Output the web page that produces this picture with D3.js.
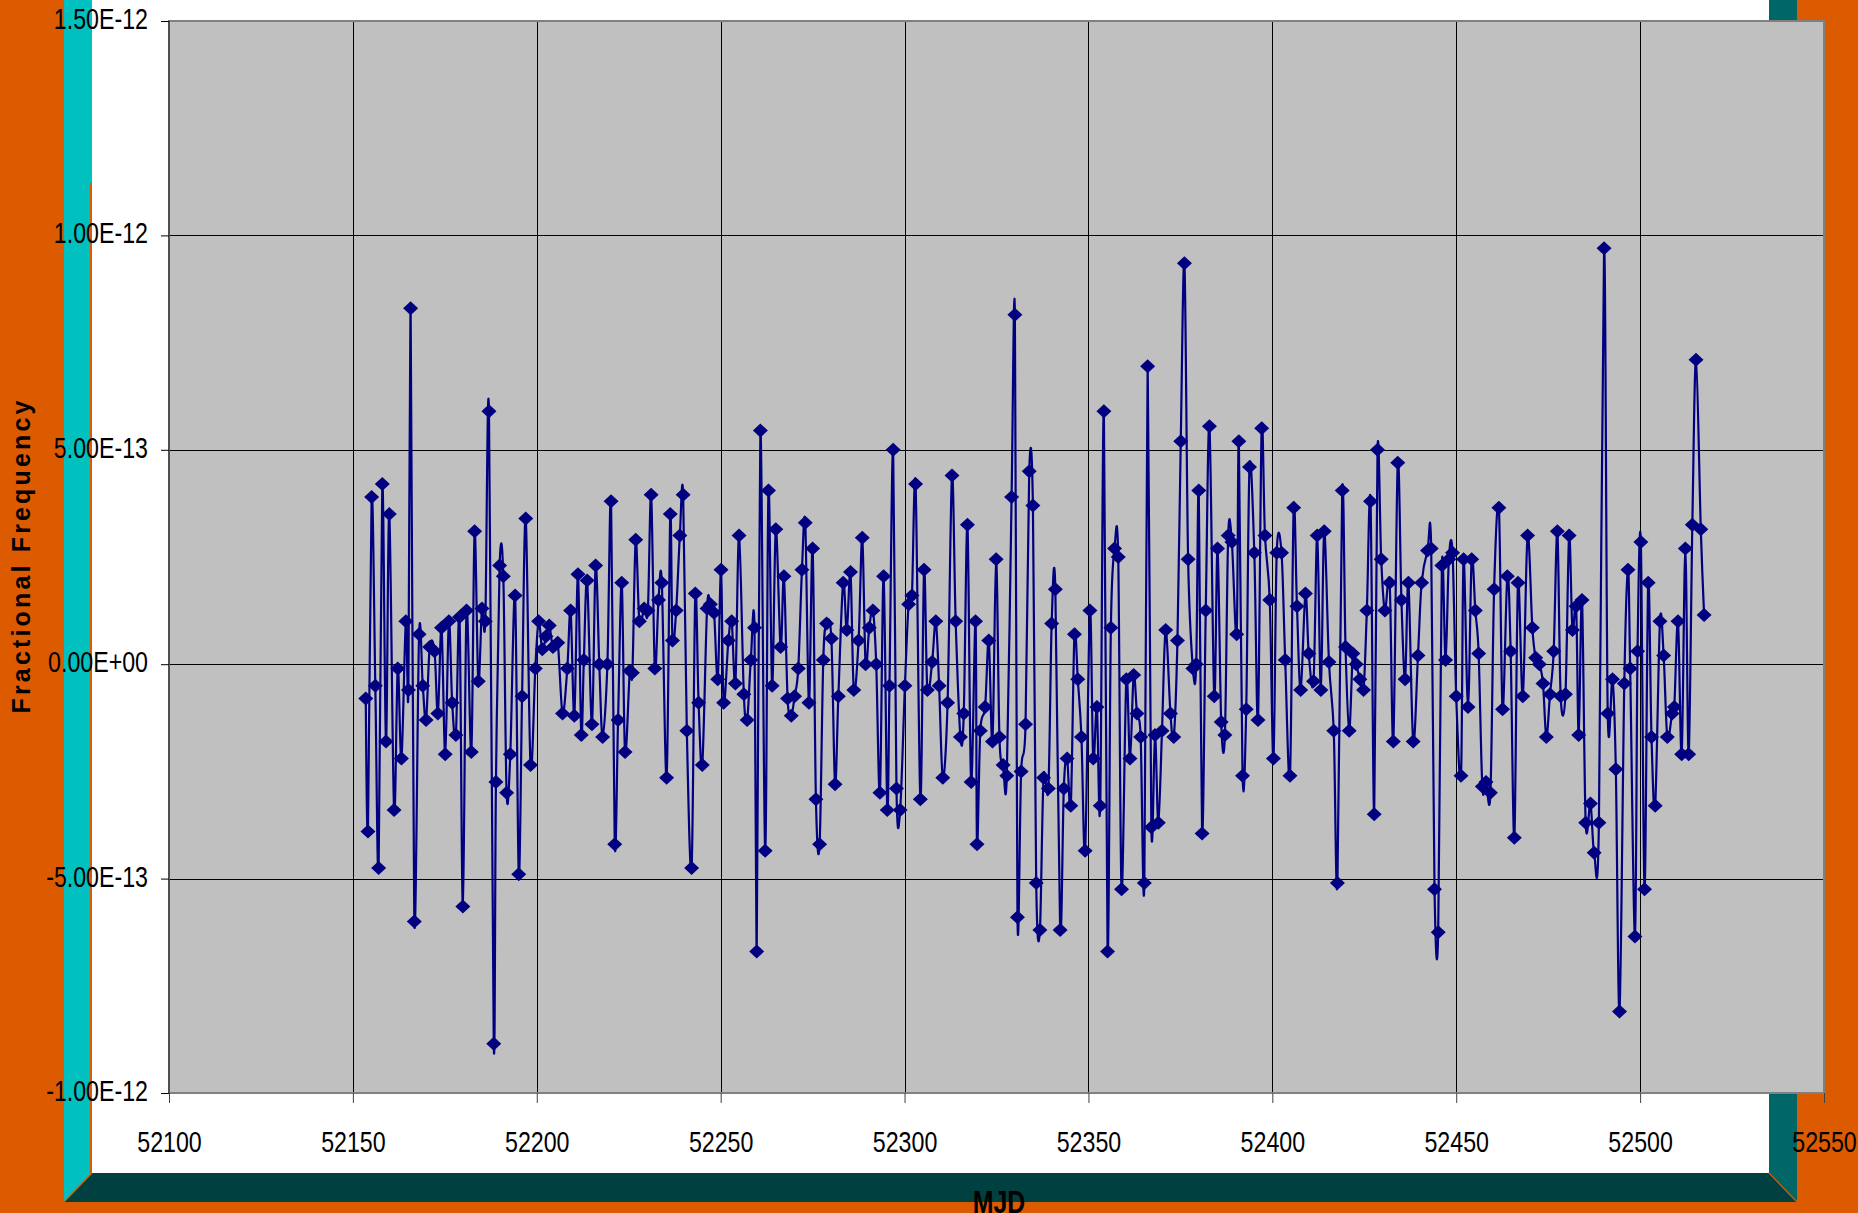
<!DOCTYPE html>
<html lang="en">
	<head>
		<meta charset="utf-8">
		<title>Fractional Frequency vs MJD</title>
		<script src="https://d3js.org/d3.v7.min.js"></script>
		<style>
			body { margin: 0; background: #DC5A00; }
			svg { display: block; }
		</style>
	</head>
	<body>
		<script type="text/javascript">

			// MJD of each point
			var mjd = [52153.5, 52154.1, 52155.1, 52156.1, 52157.0, 52158.0, 52159.0, 52159.9, 52161.2, 52162.2,
				52163.2, 52164.4, 52165.1, 52165.7, 52166.7, 52168.0, 52169.0, 52169.9, 52170.9, 52172.2,
				52173.1, 52174.1, 52175.1, 52176.1, 52177.0, 52178.0, 52179.0, 52179.9, 52180.9, 52182.2,
				52183.1, 52184.1, 52185.1, 52186.0, 52187.0, 52188.3, 52188.9, 52189.9, 52190.9, 52191.8,
				52192.8, 52194.1, 52195.1, 52196.0, 52197.0, 52198.3, 52199.6, 52200.5, 52201.5, 52202.5,
				52203.4, 52204.4, 52205.7, 52207.0, 52208.3, 52209.2, 52210.2, 52211.2, 52212.1, 52212.8,
				52213.7, 52215.0, 52216.0, 52217.0, 52217.9, 52219.2, 52220.2, 52221.2, 52222.1, 52223.1,
				52224.0, 52225.3, 52226.0, 52226.9, 52227.9, 52229.2, 52230.2, 52231.1, 52232.1, 52233.1,
				52234.0, 52235.3, 52236.3, 52236.9, 52237.9, 52238.9, 52239.8, 52240.8, 52242.1, 52243.1,
				52244.0, 52245.0, 52246.3, 52247.2, 52248.2, 52249.2, 52250.1, 52250.8, 52252.1, 52253.0,
				52254.0, 52255.0, 52256.3, 52257.2, 52258.2, 52259.2, 52259.8, 52260.8, 52262.1, 52263.0,
				52264.0, 52265.0, 52266.3, 52267.2, 52268.2, 52269.2, 52270.1, 52271.1, 52272.1, 52273.0,
				52274.0, 52275.0, 52275.9, 52276.9, 52277.9, 52278.8, 52280.1, 52281.1, 52282.0, 52283.3,
				52284.3, 52285.3, 52286.2, 52287.5, 52288.5, 52289.4, 52290.4, 52291.4, 52292.3, 52293.3,
				52294.3, 52295.3, 52295.9, 52296.9, 52297.8, 52298.8, 52300.1, 52301.1, 52302.0, 52303.0,
				52304.3, 52305.3, 52306.2, 52307.5, 52308.5, 52309.4, 52310.4, 52311.7, 52312.9, 52313.9,
				52315.2, 52316.1, 52317.1, 52318.1, 52319.3, 52319.7, 52320.6, 52321.9, 52322.9, 52323.9,
				52324.9, 52325.8, 52326.8, 52327.8, 52329.1, 52330.0, 52330.7, 52331.7, 52332.9, 52333.9,
				52334.9, 52335.8, 52336.8, 52337.8, 52339.1, 52340.0, 52341.0, 52342.3, 52343.3, 52344.2,
				52345.2, 52346.2, 52347.1, 52348.1, 52349.1, 52350.4, 52351.3, 52352.3, 52353.2, 52354.2,
				52355.2, 52356.1, 52357.1, 52358.1, 52359.0, 52360.3, 52361.3, 52362.3, 52363.2, 52364.2,
				52365.2, 52366.1, 52367.1, 52368.1, 52369.0, 52370.0, 52371.0, 52372.3, 52373.2, 52374.2,
				52375.1, 52376.1, 52377.1, 52378.4, 52379.3, 52380.0, 52380.9, 52381.9, 52382.9, 52384.2,
				52385.1, 52386.1, 52387.1, 52388.0, 52389.0, 52390.3, 52390.9, 52391.9, 52392.9, 52393.8,
				52395.1, 52396.1, 52397.1, 52398.0, 52399.3, 52400.3, 52401.2, 52402.5, 52403.5, 52404.8,
				52405.8, 52406.7, 52407.7, 52409.0, 52409.9, 52411.2, 52412.2, 52413.2, 52414.1, 52415.4,
				52416.7, 52417.7, 52419.0, 52419.9, 52420.9, 52421.9, 52422.8, 52423.8, 52424.8, 52425.7,
				52426.7, 52427.7, 52428.6, 52429.6, 52430.6, 52431.9, 52432.9, 52434.1, 52435.1, 52436.1,
				52437.0, 52438.3, 52439.6, 52440.6, 52442.2, 52443.2, 52444.1, 52445.1, 52446.1, 52447.1,
				52448.0, 52449.0, 52450.0, 52451.3, 52452.0, 52453.2, 52454.2, 52455.2, 52456.1, 52457.1,
				52458.1, 52459.3, 52460.3, 52461.6, 52462.6, 52463.9, 52464.8, 52465.8, 52466.8, 52468.1,
				52469.4, 52470.7, 52471.6, 52472.6, 52473.6, 52474.5, 52475.5, 52476.5, 52477.5, 52478.4,
				52479.7, 52480.7, 52481.6, 52482.6, 52483.3, 52484.2, 52485.2, 52486.5, 52487.5, 52488.8,
				52490.2, 52491.2, 52492.5, 52493.4, 52494.4, 52495.7, 52496.7, 52497.3, 52498.6, 52499.3,
				52500.2, 52501.2, 52502.2, 52503.1, 52504.1, 52505.4, 52506.4, 52507.4, 52508.7, 52509.3,
				52510.3, 52511.3, 52512.3, 52513.2, 52514.2, 52515.2, 52516.5, 52517.4];

			// fractional frequency, in units of 1E-13
			var fracFreqE13 = [-0.8, -3.9, 3.9, -0.5, -4.75, 4.2, -1.8, 3.5, -3.4, -0.1,
				-2.2, 1.0, -0.6, 8.3, -6.0, 0.7, -0.5, -1.3, 0.4, 0.3,
				-1.15, 0.85, -2.1, 1.0, -0.9, -1.65, 1.1, -5.65, 1.25, -2.05,
				3.1, -0.4, 1.3, 1.0, 5.9, -8.85, -2.75, 2.3, 2.05, -3.0,
				-2.1, 1.6, -4.9, -0.75, 3.4, -2.35, -0.1, 1.0, 0.35, 0.65,
				0.9, 0.4, 0.5, -1.15, -0.1, 1.25, -1.2, 2.1, -1.65, 0.1,
				1.95, -1.4, 2.3, 0.0, -1.7, 0.0, 3.8, -4.2, -1.3, 1.9,
				-2.05, -0.15, -0.2, 2.9, 1.0, 1.3, 1.25, 3.95, -0.1, 1.5,
				1.9, -2.65, 3.5, 0.55, 1.25, 3.0, 3.95, -1.55, -4.75, 1.65,
				-0.9, -2.35, 1.3, 1.4, 1.2, -0.35, 2.2, -0.9, 0.55, 1.0,
				-0.45, 3.0, -0.7, -1.3, 0.1, 0.85, -6.7, 5.45, -4.35, 4.05,
				-0.5, 3.15, 0.4, 2.05, -0.8, -1.2, -0.75, -0.1, 2.2, 3.3,
				-0.9, 2.7, -3.15, -4.2, 0.1, 0.95, 0.6, -2.8, -0.75, 1.9,
				0.8, 2.15, -0.6, 0.55, 2.95, 0.0, 0.85, 1.25, 0.0, -3.0,
				2.05, -3.4, -0.5, 5.0, -2.9, -3.4, -0.5, 1.4, 1.6, 4.2,
				-3.15, 2.2, -0.6, 0.05, 1.0, -0.5, -2.65, -0.9, 4.4, 1.0,
				-1.7, -1.15, 3.25, -2.75, 1.0, -4.2, -1.55, -1.0, 0.55, -1.8,
				2.45, -1.7, -2.35, -2.6, 3.9, 8.15, -5.9, -2.5, -1.4, 4.5,
				3.7, -5.1, -6.2, -2.65, -2.9, 0.95, 1.75, -6.2, -2.9, -2.2,
				-3.3, 0.7, -0.35, -1.7, -4.35, 1.25, -2.2, -1.0, -3.3, 5.9,
				-6.7, 0.85, 2.7, 2.5, -5.25, -0.35, -2.2, -0.25, -1.15, -1.7,
				-5.1, 6.95, -3.8, -1.65, -3.7, -1.55, 0.8, -1.15, -1.7, 0.55,
				5.2, 9.35, 2.45, -0.1, 0.0, 4.05, -3.95, 1.25, 5.55, -0.75,
				2.7, -1.35, -1.65, 3.0, 2.85, 0.7, 5.2, -2.6, -1.05, 4.6,
				2.6, -1.3, 5.5, 3.0, 1.5, -2.2, 2.6, 2.6, 0.1, -2.6,
				3.65, 1.35, -0.6, 1.65, 0.25, -0.4, 3.0, -0.6, 3.1, 0.05,
				-1.55, -5.1, 4.05, 0.4, -1.55, 0.25, 0.0, -0.35, -0.6, 1.25,
				3.8, -3.5, 5.0, 2.45, 1.25, 1.9, -1.8, 4.7, 1.5, -0.35,
				1.9, -1.8, 0.2, 1.9, 2.65, 2.7, -5.25, -6.25, 2.3, 0.1,
				2.45, 2.6, -0.75, -2.6, 2.45, -1.0, 2.45, 1.25, 0.25, -2.85,
				-2.75, -3.0, 1.75, 3.65, -1.05, 2.05, 0.3, -4.05, 1.9, -0.75,
				3.0, 0.85, 0.15, 0.0, -0.45, -1.7, -0.7, 0.3, 3.1, -0.75,
				-0.7, 3.0, 0.8, 1.35, -1.65, 1.5, -3.7, -3.25, -4.4, -3.7,
				9.7, -1.15, -0.35, -2.45, -8.1, -0.45, 2.2, -0.1, -6.35, 0.3,
				2.85, -5.25, 1.9, -1.7, -3.3, 1.0, 0.2, -1.7, -1.15, -1.0,
				1.0, -2.1, 2.7, -2.1, 3.25, 7.1, 3.15, 1.15];

			// axis ticks
			var xTicks = [52100, 52150, 52200, 52250, 52300, 52350, 52400, 52450, 52500, 52550];
			var yTicks = [-10, -5, 0, 5, 10, 15];
			var yTickLabels = ["-1.00E-12", "-5.00E-13", "0.00E+00", "5.00E-13", "1.00E-12", "1.50E-12"];

			var w = 1858;
			var h = 1213;

			// plot area
			var plotL = 169, plotR = 1824, plotT = 21, plotB = 1093;

			var x_scale = d3.scaleLinear().domain([52100, 52550]).range([plotL, plotR]);
			var y_scale = d3.scaleLinear().domain([-10, 15]).range([plotB, plotT]);

			var svg = d3.select("body").append("svg").attr("width", w).attr("height", h);

			// slide background: orange, with a 3D white panel
			svg.append("rect").attr("x", 0).attr("y", 0).attr("width", w).attr("height", h).attr("fill", "#DC5A00");
			svg.append("polygon").attr("points", "64,0 92,0 92,1173 64,1202").attr("fill", "#00C0C0");
			svg.append("rect").attr("x", 90).attr("y", 183).attr("width", 2).attr("height", 990).attr("fill", "#DC5A00");
			svg.append("rect").attr("x", 92).attr("y", 0).attr("width", 1677).attr("height", 1173).attr("fill", "white");
			svg.append("polygon").attr("points", "1769,0 1797,0 1797,1202 1769,1173").attr("fill", "#006666");
			svg.append("polygon").attr("points", "92,1173 1769,1173 1797,1202 64,1202").attr("fill", "#004040");
			svg.append("line").attr("x1", 92).attr("y1", 1173).attr("x2", 64).attr("y2", 1202).attr("stroke", "#DC5A00").attr("stroke-width", 1.2);
			svg.append("line").attr("x1", 1769).attr("y1", 1173).attr("x2", 1797).attr("y2", 1202).attr("stroke", "#DC5A00").attr("stroke-width", 1.2);

			// plot area background
			svg.append("rect").attr("x", plotL).attr("y", plotT).attr("width", plotR - plotL).attr("height", plotB - plotT).attr("fill", "#C0C0C0");

			// gridlines
			svg.append("g").selectAll("line").data(yTicks).enter().append("line")
				.attr("x1", plotL).attr("x2", plotR)
				.attr("y1", function(d) { return Math.round(y_scale(d)) + 0.5; })
				.attr("y2", function(d) { return Math.round(y_scale(d)) + 0.5; })
				.attr("stroke", "black").attr("stroke-width", 1);
			svg.append("g").selectAll("line").data(xTicks).enter().append("line")
				.attr("y1", plotT).attr("y2", plotB)
				.attr("x1", function(d) { return Math.round(x_scale(d)) + 0.5; })
				.attr("x2", function(d) { return Math.round(x_scale(d)) + 0.5; })
				.attr("stroke", "black").attr("stroke-width", 1);

			// plot border
			svg.append("rect").attr("x", plotL).attr("y", plotT).attr("width", plotR - plotL).attr("height", plotB - plotT)
				.attr("fill", "none").attr("stroke", "#808080").attr("stroke-width", 2);
			svg.append("line").attr("x1", plotL).attr("x2", plotL).attr("y1", plotT).attr("y2", plotB + 1)
				.attr("stroke", "#505050").attr("stroke-width", 2);

			// axes
			var y_axis = d3.axisLeft(y_scale).tickValues(yTicks)
				.tickFormat(function(d, i) { return yTickLabels[i]; }).tickSize(8);
			var gy = svg.append("g").attr("transform", "translate(" + plotL + ",0)").call(y_axis);
			gy.select(".domain").remove();
			gy.selectAll(".tick line").attr("stroke", "black");
			gy.selectAll(".tick text")
				.attr("x", 0).attr("dy", null)
				.attr("transform", "translate(-21,7.5) scale(0.8,1)")
				.attr("text-anchor", "end")
				.attr("font-family", "'Liberation Sans', Arial, sans-serif")
				.attr("font-size", 29).attr("fill", "black");

			var x_axis = d3.axisBottom(x_scale).tickValues(xTicks).tickFormat(d3.format("d")).tickSize(10);
			var gx = svg.append("g").attr("transform", "translate(0," + plotB + ")").call(x_axis);
			gx.select(".domain").remove();
			gx.selectAll(".tick line").attr("stroke", "#404040");
			gx.selectAll(".tick text")
				.attr("y", 0).attr("dy", null)
				.attr("transform", "translate(0,59) scale(0.8,1)")
				.attr("font-family", "'Liberation Sans', Arial, sans-serif")
				.attr("font-size", 29).attr("fill", "black");

			// data
			var points = mjd.map(function(m, i) { return { mjd: m, v: fracFreqE13[i] }; });

			var line = d3.line()
				.x(function(d) { return x_scale(d.mjd); })
				.y(function(d) { return y_scale(d.v); })
				.curve(d3.curveCardinal.tension(0));

			svg.append("path").datum(points).attr("d", line)
				.attr("fill", "none").attr("stroke", "#000080").attr("stroke-width", 2.2);

			svg.append("g").selectAll("path").data(points).enter().append("path")
				.attr("d", "M0,-7L7.5,0L0,7L-7.5,0Z")
				.attr("transform", function(d) { return "translate(" + x_scale(d.mjd) + "," + y_scale(d.v) + ")"; })
				.attr("fill", "#000080");

			// axis titles
			svg.append("text").text("Fractional Frequency")
				.attr("transform", "translate(30,557) rotate(-90)")
				.attr("text-anchor", "middle")
				.attr("font-family", "'Liberation Sans', Arial, sans-serif")
				.attr("font-weight", "bold").attr("font-size", 25)
				.attr("textLength", 313).attr("lengthAdjust", "spacing")
				.attr("fill", "black");

			svg.append("text").text("MJD")
				.attr("transform", "translate(999,1213) scale(0.8,1)")
				.attr("text-anchor", "middle")
				.attr("font-family", "'Liberation Sans', Arial, sans-serif")
				.attr("font-weight", "bold").attr("font-size", 31)
				.attr("fill", "black");

		</script>
	</body>
</html>
